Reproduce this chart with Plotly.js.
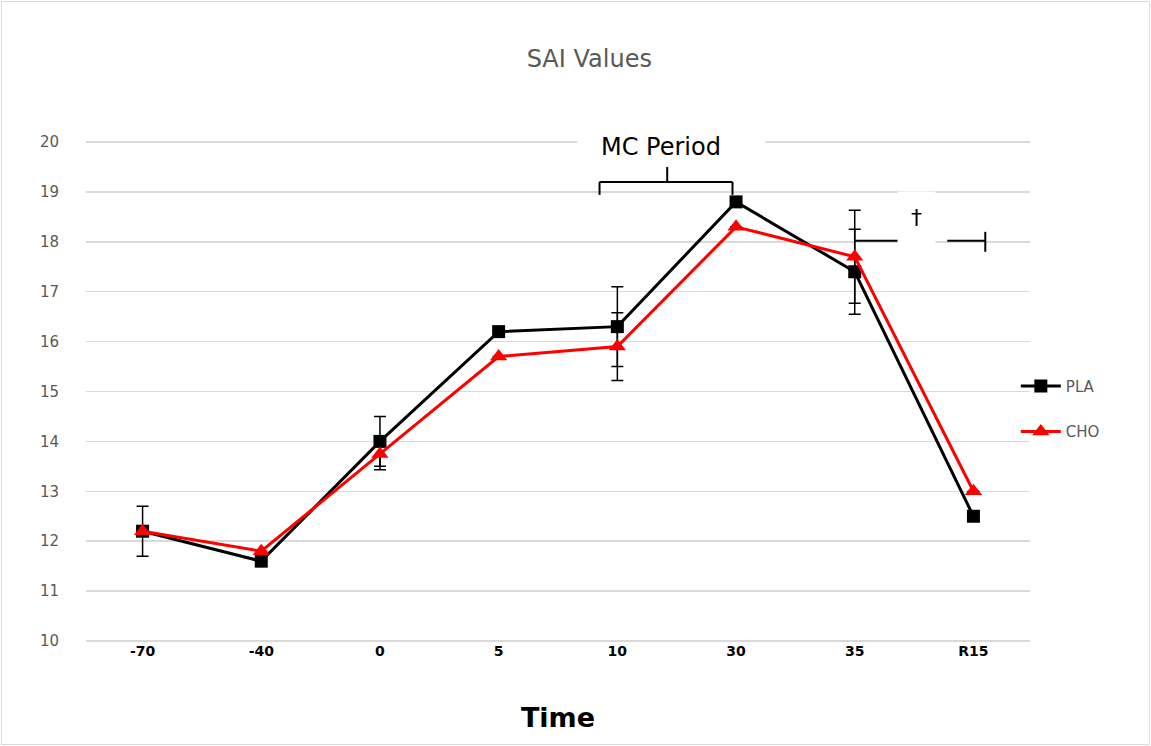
<!DOCTYPE html>
<html>
<head>
<meta charset="utf-8">
<script src="https://cdn.plot.ly/plotly-3.0.1.min.js"></script>
<style>
html,body{margin:0;padding:0;background:#fff;}
#frame{position:absolute;left:1px;top:1px;width:1147px;height:742px;border:1px solid #d9d9d9;}
#chart{position:absolute;left:0;top:0;width:1151px;height:746px;}
</style>
</head>
<body>
<div id="frame"></div>
<div id="chart"></div>
<script>
const categories = ["-70", "-40", "0", "5", "10", "30", "35", "R15"];
const plaValues = [12.2, 11.6, 14.0, 16.2, 16.3, 18.8, 17.4, 12.5];
const choValues = [12.2, 11.8, 13.75, 15.7, 15.9, 18.3, 17.7, 13.0];
const plaErrors = [0.5, null, 0.5, null, 0.8, null, 0.85, null];
const choErrors = [null, null, 0.32, null, 0.68, null, 0.93, null];
const yTicks = [10, 11, 12, 13, 14, 15, 16, 17, 18, 19, 20];

const grid = '#d9d9d9';
const txt = '#595959';
const font = 'DejaVu Sans, sans-serif';

const traces = [
  {
    x: categories, y: plaValues, name: 'PLA', type: 'scatter', mode: 'lines+markers',
    legendgroup: 'a',
    line: {color: '#000000', width: 3},
    marker: {symbol: 'square', size: 13, color: '#000000'},
    error_y: {type: 'data', array: plaErrors.map(v => v || 0), visible: true, color: '#000000', thickness: 1.5, width: 6}
  },
  {
    x: categories, y: choValues, name: 'CHO', type: 'scatter', mode: 'lines+markers',
    legendgroup: 'b',
    line: {color: '#ff0000', width: 3},
    marker: {symbol: 'triangle-up', size: 15, color: '#ff0000'},
    error_y: {type: 'data', array: choErrors.map(v => v || 0), visible: true, color: '#000000', thickness: 1.5, width: 6}
  }
];

const bracket = {type: 'line', xref: 'x', yref: 'y', line: {color: '#000000', width: 2}};
const layout = {
  width: 1151, height: 746,
  paper_bgcolor: 'rgba(0,0,0,0)', plot_bgcolor: 'rgba(0,0,0,0)',
  margin: {l: 86, r: 121, t: 140, b: 103},
  font: {family: font, color: txt},
  title: {text: 'SAI Values', x: 0.512, xanchor: 'center', y: 0.922, yanchor: 'middle',
          font: {family: font, size: 24, color: txt}},
  xaxis: {
    type: 'category', categoryorder: 'array', categoryarray: categories,
    showgrid: false, zeroline: false, showline: false, ticks: '', ticklabelstandoff: -2,
    tickfont: {family: font, size: 14, color: '#000000', weight: 'bold'},
    title: {text: '<b>Time</b>', font: {family: font, size: 27, color: '#000000'}, standoff: 50}
  },
  yaxis: {
    range: [9.96, 20.04], tickvals: yTicks, showgrid: true, gridcolor: grid, gridwidth: 1.5,
    zeroline: false, showline: false, ticks: '', ticklabelstandoff: 26,
    tickfont: {family: font, size: 15, color: txt}
  },
  showlegend: true,
  legend: {x: 0.985, xanchor: 'left', y: 0.543, yanchor: 'top', traceorder: 'grouped', tracegroupgap: 23,
           font: {family: font, size: 15, color: txt}, bgcolor: 'rgba(0,0,0,0)', itemwidth: 40},
  annotations: [
    {text: ' ', xref: 'x', yref: 'y', x: 4.46, y: 19.9, showarrow: false, width: 187, height: 30,
     bgcolor: '#ffffff', borderpad: 0, font: {size: 12}},
    {text: 'MC Period', xref: 'x', yref: 'y', x: 4.37, y: 19.9, showarrow: false,
     font: {family: font, size: 24, color: '#000000'}},
    {text: '†', xref: 'x', yref: 'y', x: 6.52, y: 18.48, showarrow: false,
     font: {family: font, size: 22, color: '#000000'}, bgcolor: '#ffffff', borderpad: 13}
  ],
  shapes: [
    Object.assign({x0: 3.85, x1: 4.97, y0: 19.2, y1: 19.2}, bracket),
    Object.assign({x0: 3.85, x1: 3.85, y0: 19.2, y1: 18.94}, bracket),
    Object.assign({x0: 4.97, x1: 4.97, y0: 19.2, y1: 18.94}, bracket),
    Object.assign({x0: 4.42, x1: 4.42, y0: 19.2, y1: 19.5}, bracket),
    Object.assign({x0: 6.0, x1: 6.39, y0: 18.02, y1: 18.02}, bracket),
    Object.assign({x0: 6.78, x1: 7.1, y0: 18.02, y1: 18.02}, bracket),
    Object.assign({x0: 7.1, x1: 7.1, y0: 17.8, y1: 18.2}, bracket)
  ]
};

Plotly.newPlot('chart', traces, layout, {displayModeBar: false, staticPlot: true});
</script>
</body>
</html>
